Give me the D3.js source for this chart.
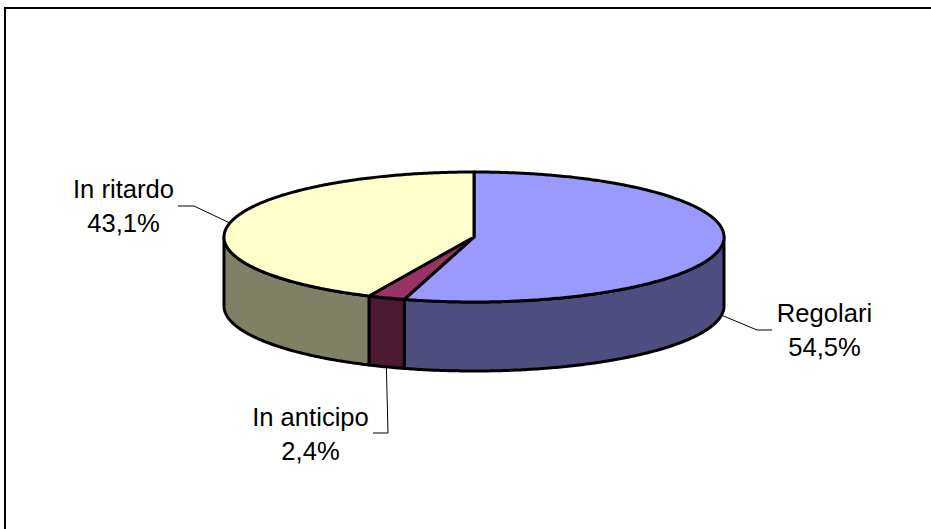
<!DOCTYPE html>
<html>
<head>
<meta charset="utf-8">
<script src="https://cdn.jsdelivr.net/npm/d3@7"></script>
<style>
    html, body { margin: 0; padding: 0; background: #fff; overflow: hidden; }
    svg { display: block; }
    text { font-family: "Liberation Sans", Arial, sans-serif; font-size: 25.6px; fill: #000; text-anchor: middle; }
</style>
</head>
<body>
<div id="chart"></div>
<script>
// Data
const categories = ["Regolari", "In anticipo", "In ritardo"];
const values = [54.5, 2.4, 43.1];
const valueLabels = ["54,5%", "2,4%", "43,1%"];

const topColors = ["#9999ff", "#993366", "#ffffcc"];
const sideColors = ["#4d4d80", "#4d1a33", "#808066"];

function renderChart() {
    const w = 931, h = 529;
    const cx = 474, cy = 237, rx = 250, ry = 65, depth = 69;

    const svg = d3.select("#chart").append("svg")
        .attr("width", w)
        .attr("height", h);

    // Ram (only top and left reach inside the picture)
    svg.append("path")
        .attr("d", `M5,${h}V8H${w}`)
        .attr("fill", "none")
        .attr("stroke", "#000")
        .attr("stroke-width", 2);

    // Skala: unit circle -> flattened ellipse
    const xScale = d3.scaleLinear().domain([-1, 1]).range([cx - rx, cx + rx]);
    const yScale = d3.scaleLinear().domain([-1, 1]).range([cy - ry, cy + ry]);

    const px = a => xScale(Math.sin(a));
    const py = a => yScale(-Math.cos(a));

    const slices = d3.pie().sort(null).value(d => d)(values);

    // samples an arc between two angles
    const arcPoints = (a0, a1) => {
        const n = Math.max(2, Math.ceil((a1 - a0) / 0.01));
        return d3.range(n + 1).map(i => a0 + (a1 - a0) * i / n);
    };
    const line = d3.line().x(d => d[0]).y(d => d[1]);

    // Sidor: only the part of each slice facing the viewer
    const frontStart = Math.PI / 2, frontEnd = 3 * Math.PI / 2;
    slices.forEach((s, i) => {
        const a0 = Math.max(s.startAngle, frontStart);
        const a1 = Math.min(s.endAngle, frontEnd);
        if (a1 <= a0) return;
        const arc = arcPoints(a0, a1);
        const upper = arc.map(a => [px(a), py(a)]);
        const lower = arc.slice().reverse().map(a => [px(a), py(a) + depth]);
        svg.append("path")
            .attr("d", line(upper.concat(lower)) + "Z")
            .attr("fill", sideColors[i])
            .attr("stroke", "#000")
            .attr("stroke-width", 3)
            .attr("stroke-linejoin", "round");
    });

    // Topp
    slices.forEach((s, i) => {
        const pts = arcPoints(s.startAngle, s.endAngle).map(a => [px(a), py(a)]);
        svg.append("path")
            .attr("d", line([[xScale(0), yScale(0)]].concat(pts)) + "Z")
            .attr("fill", topColors[i])
            .attr("stroke", "#000")
            .attr("stroke-width", 3)
            .attr("stroke-linejoin", "round");
    });

    // Etiketter: label centre, elbow and end of the leader
    const labelPos = [
        { x: 824.5, y: 322, elbow: [757, 330], end: [772, 330], front: true },
        { x: 310.5, y: 426, elbow: [388, 433], end: [373, 433], front: true },
        { x: 123.5, y: 198, elbow: [194, 206], end: [178, 206], front: false }
    ];

    slices.forEach((s, i) => {
        const mid = (s.startAngle + s.endAngle) / 2;
        const p = labelPos[i];
        const start = [px(mid), py(mid) + (p.front ? depth : 0)];
        svg.append("path")
            .attr("d", line([start, p.elbow, p.end]))
            .attr("fill", "none")
            .attr("stroke", "#000")
            .attr("stroke-width", 1);

        const t = svg.append("text").attr("x", p.x).attr("y", p.y);
        t.append("tspan").attr("x", p.x).text(categories[i]);
        t.append("tspan").attr("x", p.x).attr("dy", 33.5).text(valueLabels[i]);
    });
}

renderChart();
</script>
</body>
</html>
